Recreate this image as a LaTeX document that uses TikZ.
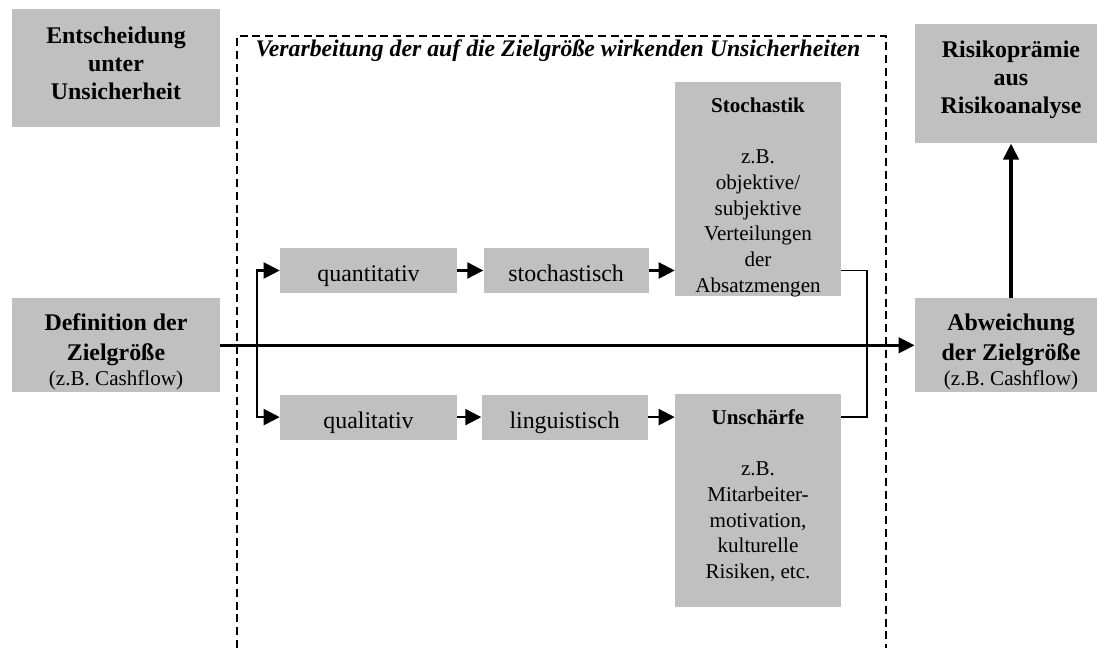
\documentclass[tikz,border=0pt]{standalone}
\usepackage{fontspec}
\setmainfont{Liberation Serif}
\usetikzlibrary{positioning,arrows.meta}
\definecolor{BoxGray}{RGB}{192,192,192}
\tikzset{
  graybox/.style={fill=BoxGray,inner sep=0pt,align=flush center,font=\fontsize{15}{18.3}\selectfont},
  stepbox/.style={graybox,minimum height=1.125cm,text height=0.55cm,text depth=0pt,font=\fontsize{17}{20}\selectfont},
  headbox/.style={graybox,anchor=north,font=\bfseries\fontsize{17}{20}\selectfont},
  tallbox/.style={graybox,text width=4.15cm,text height=0.75cm,anchor=north},
  flow/.style={line width=1.5pt,-{Triangle[length=0.4cm,width=0.4cm]}},
  mainflow/.style={line width=2.4pt,-{Triangle[length=0.4cm,width=0.38cm]}},
  frame/.style={line width=1.3pt,dash pattern=on 0.2cm off 0.12cm}
}

\begin{document}
\begin{tikzpicture}[x=0.025cm,y=-0.025cm]
\useasboundingbox (0,0) rectangle (1097,648);
% outer boxes
\node[headbox,text width=5.2cm,text height=0.85cm,text depth=2.1cm] (entsch) at (116,9) {Entscheidung\\unter\\Unsicherheit};
\node[headbox,text width=4.8cm,text height=0.825cm,text depth=2.15cm] (risiko) at (1011,24) {Risikoprämie\\aus\\Risikoanalyse};
\node[headbox,text width=5.2cm,text height=0.8cm,text depth=1.55cm,font=\bfseries\fontsize{17}{21.3}\selectfont] (defin) at (116,298) {Definition der\\Zielgröße\\[-3pt]{\normalfont\fontsize{15}{18}\selectfont (z.B. Cashflow)}};
\node[headbox,text width=4.8cm,text height=0.8cm,text depth=1.55cm,font=\bfseries\fontsize{17}{21.3}\selectfont] (abw) at (1011,298) {Abweichung\\der Zielgröße\\[-3pt]{\normalfont\fontsize{15}{18}\selectfont (z.B. Cashflow)}};
% frame
\draw[frame] (237,648) -- (237,36) -- (886,36) -- (886,648);
\node[font=\bfseries\itshape\fontsize{16.9}{20}\selectfont,anchor=base] (title) at (558,57) {Verarbeitung der auf die Zielgröße wirkenden Unsicherheiten};
% inner boxes
\node[stepbox,minimum width=4.425cm] (quant) at (368.5,270.5) {quantitativ};
\node[stepbox,minimum width=4.125cm,right=0.65cm of quant] (stoch) {stochastisch};
\node[stepbox,minimum width=4.425cm,below=2.525cm of quant] (qual) {qualitativ};
\node[stepbox,minimum width=4.15cm,right=0.6cm of qual] (ling) {linguistisch};
\node[tallbox,text depth=4.6cm] (stochastik) at (758,82) {\textbf{Stochastik}\\[18.3pt]z.B.\\objektive/\\subjektive\\Verteilungen\\der\\Absatzmengen};
\node[tallbox,text depth=4.575cm] (unschaerfe) at (758,394) {\textbf{Unschärfe}\\[18.3pt]z.B.\\Mitarbeiter-\\motivation,\\kulturelle\\Risiken, etc.};
% connectors
\coordinate (split) at (257,345);
\coordinate (join) at (867,345);
\draw[flow] (split) |- (quant);
\draw[flow] (split) |- (qual);
\draw[flow] (quant) -- (stoch);
\draw[flow] (qual) -- (ling);
\draw[flow] (stoch) -- (stoch -| stochastik.west);
\draw[flow] (ling) -- (ling -| unschaerfe.west);
\draw[line width=1.4pt] (stoch -| stochastik.east) -| (join) |- (ling -| unschaerfe.east);
\draw[mainflow] (defin) -- (abw);
\draw[mainflow] (abw) -- (risiko);
\end{tikzpicture}
\end{document}
